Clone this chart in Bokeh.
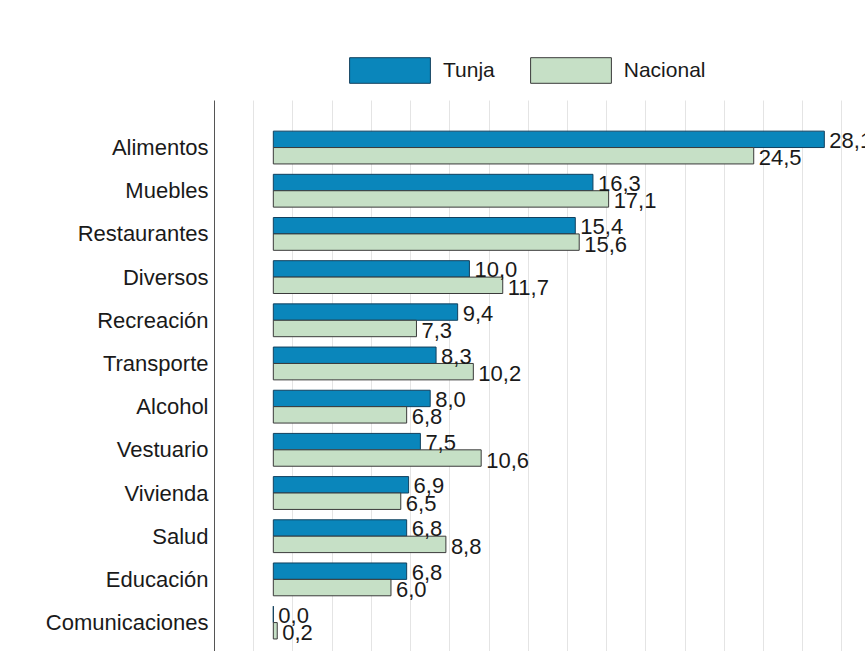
from bokeh.plotting import figure
from bokeh.models import ColumnDataSource, Range1d, FixedTicker, Legend, LegendItem, Grid, BoxAnnotation
from bokeh.transform import dodge
from bokeh.core.properties import value
from bokeh.embed import file_html
from bokeh.resources import INLINE

categories = ["Alimentos", "Muebles", "Restaurantes", "Diversos", "Recreación",
              "Transporte", "Alcohol", "Vestuario", "Vivienda", "Salud",
              "Educación", "Comunicaciones"]
tunja = [28.1, 16.3, 15.4, 10.0, 9.4, 8.3, 8.0, 7.5, 6.9, 6.8, 6.8, 0.0]
nacional = [24.5, 17.1, 15.6, 11.7, 7.3, 10.2, 6.8, 10.6, 6.5, 8.8, 6.0, 0.2]
grid_ticks = [-1, 1, 3, 5, 7, 9, 11, 13, 15, 17, 19, 21, 23, 25, 27, 29]

FONT = "Liberation Sans"
idx = list(range(len(categories)))
src = ColumnDataSource(dict(
    idx=idx, tunja=tunja, nacional=nacional,
    tunja_lbl=[f"{v:.1f}".replace(".", ",") for v in tunja],
    nacional_lbl=[f"{v:.1f}".replace(".", ",") for v in nacional],
))

Y_BOTTOM, Y_DATA_TOP, Y_TOP = 11.67, -1.09, -3.405
p = figure(width=865, height=651, output_backend="svg", toolbar_location=None,
           x_range=Range1d(-3.0, 30.2), y_range=Range1d(Y_BOTTOM, Y_TOP),
           min_border_left=214, min_border_right=0, min_border_bottom=0,
           min_border_top=0)
p.outline_line_color = None
p.background_fill_color = "white"

BH = 0.38
r1 = p.hbar(y=dodge("idx", -BH / 2, range=p.y_range), left=0, right="tunja", height=BH,
            source=src, fill_color="#0a86bb", line_color="#12405e", line_width=1)
r2 = p.hbar(y=dodge("idx", BH / 2, range=p.y_range), left=0, right="nacional", height=BH,
            source=src, fill_color="#c6e0c6", line_color="#3a3a3a", line_width=1)

p.text(x="tunja", y=dodge("idx", -BH / 2, range=p.y_range), text="tunja_lbl", source=src,
       x_offset=5, y_offset=1, text_baseline="middle", text_font=value(FONT),
       text_font_size="22px", text_color="#1a1a1a")
p.text(x="nacional", y=dodge("idx", BH / 2, range=p.y_range), text="nacional_lbl", source=src,
       x_offset=5, y_offset=2, text_baseline="middle", text_font=value(FONT),
       text_font_size="22px", text_color="#1a1a1a")

p.xaxis.visible = False
p.xaxis.ticker = FixedTicker(ticks=grid_ticks)
p.xgrid.ticker = FixedTicker(ticks=grid_ticks)
p.xgrid.grid_line_color = "#e4e4e4"
p.xgrid.grid_line_width = 1
if "cross_bounds" in Grid.properties():
    p.xgrid.cross_bounds = (Y_DATA_TOP, Y_BOTTOM)
else:
    p.add_layout(BoxAnnotation(bottom=Y_DATA_TOP, fill_color="white", fill_alpha=1,
                               line_color=None, level="underlay"))
p.ygrid.grid_line_color = None

p.yaxis.bounds = (Y_DATA_TOP, Y_BOTTOM)
p.yaxis.ticker = FixedTicker(ticks=idx)
p.yaxis.major_label_overrides = {i: c for i, c in enumerate(categories)}
p.yaxis.major_tick_out = 0
p.yaxis.major_tick_in = 0
p.yaxis.minor_tick_out = 0
p.yaxis.minor_tick_in = 0
p.yaxis.major_label_standoff = 6
p.yaxis.major_label_text_font = FONT
p.yaxis.major_label_text_font_size = "22px"
p.yaxis.major_label_text_color = "#1a1a1a"
p.yaxis.axis_line_color = "#555555"
p.yaxis.axis_line_width = 1

legend = Legend(items=[LegendItem(label="Tunja", renderers=[r1]),
                       LegendItem(label="Nacional", renderers=[r2])],
                orientation="horizontal", location=(125, 565),
                glyph_width=101, glyph_height=32, label_standoff=3, spacing=25,
                label_text_font=FONT, label_text_font_size="21px",
                label_text_color="#1a1a1a", border_line_color=None,
                background_fill_alpha=0, padding=0, margin=0)
p.add_layout(legend, "center")

open("out.html", "w").write(file_html(p, INLINE))
